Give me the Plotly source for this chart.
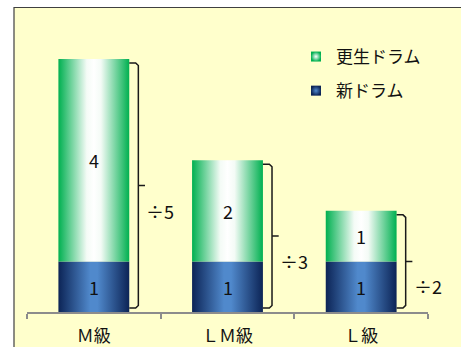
import plotly.graph_objects as go

# Drum counts per size class
categories = ["Ｍ級", "ＬＭ級", "Ｌ級"]
new_drums = [1, 1, 1]
recycled_drums = [4, 2, 1]
ratio_labels = ["÷5", "÷3", "÷2"]

W, H = 461, 347
FONT = "Noto Sans CJK JP"
BAR_HALF = 0.265
GREEN_SCALE = [[0, "#00B050"], [0.40, "#F4FBF6"], [0.5, "#FFFFFF"], [0.60, "#F4FBF6"], [1, "#00B050"]]
BLUE_SCALE = [[0, "#0C2456"], [0.45, "#5089CC"], [0.55, "#5089CC"], [1, "#0C2456"]]

fig = go.Figure()


def add_segment(i, y0, y1, scale):
    x0, x1 = i - BAR_HALF, i + BAR_HALF
    fig.add_trace(go.Scatter(
        x=[x0, x1, x1, x0, x0], y=[y0, y0, y1, y1, y0],
        mode="lines", fill="toself",
        fillgradient=dict(type="horizontal", colorscale=scale),
        line=dict(width=0, color="rgba(0,0,0,0)"),
        showlegend=False, hoverinfo="skip"))


annotations = []
for i, (n, r) in enumerate(zip(new_drums, recycled_drums)):
    add_segment(i, 0, n, BLUE_SCALE)
    add_segment(i, n, n + r, GREEN_SCALE)
    annotations.append(dict(x=i, y=n / 2, text=str(n), showarrow=False,
                            font=dict(size=18, color="#111111", family=FONT)))
    annotations.append(dict(x=i, y=n + r / 2, text=str(r), showarrow=False,
                            font=dict(size=18, color="#111111", family=FONT)))

    # curly brace spanning the whole stack
    total = n + r
    xe = i + BAR_HALF
    xv = xe + 0.068
    tip = xv + 0.05
    top, bot, mid = total - 0.08, 0.08, total / 2
    ry, rx = 0.05, 0.02
    fig.add_trace(go.Scatter(
        x=[xe, xv - rx, xv, xv, tip, xv, xv, xv - rx, xe],
        y=[top, top, top - ry, mid, mid, mid, bot + ry, bot, bot],
        mode="lines", line=dict(color="#1A1A1A", width=1.5),
        showlegend=False, hoverinfo="skip"))
    annotations.append(dict(x=xv, y=mid, text=ratio_labels[i], showarrow=False,
                            xanchor="left", yanchor="middle", xshift=6, yshift=-25,
                            font=dict(size=18, color="#111111", family=FONT)))

# legend entries
fig.add_trace(go.Scatter(
    x=[None], y=[None], mode="markers", name="更生ドラム", legendgroup="a",
    marker=dict(symbol="square", size=10, color="#00B050",
                gradient=dict(type="radial", color="#FFFFFF"), line=dict(width=0))))
fig.add_trace(go.Scatter(
    x=[None], y=[None], mode="markers", name="新ドラム", legendgroup="b",
    marker=dict(symbol="square", size=10, color="#0C2456",
                gradient=dict(type="radial", color="#5089CC"), line=dict(width=0))))

unit_px = 50.6
axis_y = 312
fig.update_layout(
    width=W, height=H,
    margin=dict(l=0, r=0, t=0, b=0),
    paper_bgcolor="#FFFFFF", plot_bgcolor="rgba(0,0,0,0)",
    font=dict(family=FONT, color="#111111"),
    showlegend=True,
    legend=dict(x=(336 - 40) / W, y=1 - 39 / H, xanchor="left", yanchor="top",
                bgcolor="rgba(0,0,0,0)", font=dict(size=17, family=FONT, color="#111111"),
                tracegroupgap=9, traceorder="grouped"),
    xaxis=dict(domain=[27 / W, 428 / W], range=[-0.5, 2.5], automargin=False,
               showgrid=False, zeroline=False, showline=True, linecolor="#8C8C8C", linewidth=2,
               tickmode="array", tickvals=[0, 1, 2], ticktext=categories, ticks="",
               ticklabelstandoff=8,
               tickfont=dict(size=17, family=FONT, color="#111111"),
               minor=dict(tickmode="array", tickvals=[-0.5, 0.5, 1.5, 2.5], ticks="outside",
                          ticklen=5, tickwidth=1.5, tickcolor="#8C8C8C", showgrid=False)),
    yaxis=dict(domain=[(H - axis_y) / H, 1], range=[0, axis_y / unit_px], visible=False,
               showgrid=False, zeroline=False, automargin=False),
    shapes=[dict(type="rect", xref="paper", yref="paper", x0=14 / W, x1=1.1, y0=-0.1, y1=1 - 7.5 / H,
                 fillcolor="#FFFFCC", line=dict(color="#404040", width=1.2), layer="below")],
    annotations=annotations,
)

fig.write_html("out.html")
